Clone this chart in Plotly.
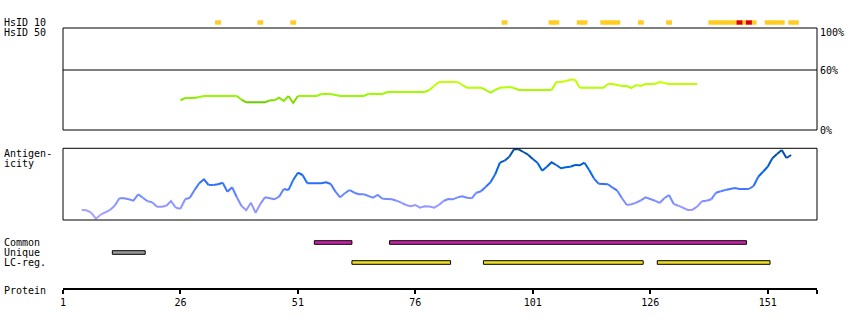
import plotly.graph_objects as go

W, H = 850, 330

# ---------------- data ----------------
protein_len = 161
tick_vals = [1, 26, 51, 76, 101, 126, 151]

hsid10_yellow = [34, 43, 50, 95, 105, 106, 111, 112, 116, 117, 118, 119, 124, 130,
                 139, 140, 141, 142, 143, 144, 146, 148, 151, 152, 153, 154, 156, 157]
hsid10_red = [145, 147]

hsid_res = list(range(26, 137))
hsid_val = [29.7, 32, 32, 32, 33, 34, 34, 34, 34, 34, 34, 34, 34, 30.3,
            27.7, 27.7, 27.7, 27.7, 27.7, 29.7, 29.7, 32.3, 29, 34, 27, 34,
            34, 34, 34, 34, 36, 36, 36, 35, 34, 34, 34, 34, 34, 34, 36, 36,
            36, 36, 38, 38, 38, 38, 38, 38, 38, 38, 38, 40, 44, 48, 48, 48,
            48, 48, 45, 42.3, 42.3, 42.3, 42.3, 40, 37.3, 40, 42.3, 42.3, 43,
            42, 40, 40, 40, 40, 40, 40, 40, 40, 48, 48, 49, 50.3, 50.3, 42.3,
            42.3, 42.3, 42.3, 42.3, 42.3, 46, 46, 45, 44, 44, 42, 45, 44, 46,
            46, 46, 48, 47, 46, 46, 46, 46, 46, 46, 46]

ant_res = list(range(5, 157))
ant_val = [10, 9.7, 7.3, 1.3, 5.3, 7.7, 10, 14.3, 21.7, 21.7, 20.7, 19.3, 25.7,
           22.3, 18.7, 17.7, 13.3, 13.3, 14.3, 19, 12.3, 11.3, 20.7, 22.3, 30,
           36.7, 40.7, 35, 35, 35.7, 37.3, 28.3, 32.7, 22.7, 14, 9.7, 17.3, 7.3,
           16, 22.7, 21.7, 20.7, 23.3, 31, 30, 40, 47.3, 45, 36.7, 36.7, 36.7,
           36.7, 37.7, 36, 28.3, 22.7, 26.7, 30, 27.3, 25.7, 25.7, 24, 22.3, 25,
           21.3, 20.7, 20.7, 19.3, 17.3, 15, 13.7, 15, 12.3, 13.7, 13.5, 12.3, 15,
           19, 21, 20.7, 22.7, 23.7, 22.3, 21.7, 27.3, 28.7, 33.3, 37.7, 45.7,
           57.3, 59.3, 63.3, 70.7, 70.7, 68, 65.3, 61, 57.3, 49.3, 53.3, 57.7,
           55, 51.7, 52.7, 53.3, 55, 54.7, 57.3, 50, 41.7, 36.3, 36, 35.7, 32.3,
           29.3, 21.7, 15, 15.7, 17.3, 19.7, 22.7, 21, 19.3, 17, 21.7, 25, 16,
           14.3, 12.3, 10, 10.3, 13.3, 18.7, 19.3, 20.7, 27.3, 28.7, 30, 31, 32,
           31, 31, 31, 34, 43.3, 48.3, 53.3, 61.7, 66, 70, 62, 65]

common_regions = [(55, 62), (71, 146)]
unique_regions = [(12, 18)]
lc_regions = [(63, 83), (91, 124), (128, 151)]

# ---------------- styling helpers ----------------
FONT = "DejaVu Sans Mono"
FS = 10


def py(px):
    return 1 - px / H


def lerp(stops, v):
    if v <= stops[0][0]:
        return stops[0][1]
    for (a, ca), (b, cb) in zip(stops, stops[1:]):
        if v <= b:
            t = (v - a) / (b - a)
            return tuple(ca[i] + (cb[i] - ca[i]) * t for i in range(3))
    return stops[-1][1]


def colored_line_traces(xs, ys, stops, yaxis, q=10):
    groups = {}
    runs = []
    cur = None
    for i in range(len(xs) - 1):
        c = lerp(stops, (ys[i] + ys[i + 1]) / 2)
        c = tuple(min(255, int(round(ch / q) * q)) for ch in c)
        if cur is not None and cur[0] == c:
            cur[1].append(xs[i + 1]); cur[2].append(ys[i + 1])
        else:
            cur = [c, [xs[i], xs[i + 1]], [ys[i], ys[i + 1]]]
            runs.append(cur)
    for c, rx, ry in runs:
        g = groups.setdefault(c, ([], []))
        g[0].extend(rx + [None]); g[1].extend(ry + [None])
    out = []
    for c, (gx, gy) in groups.items():
        out.append(go.Scatter(x=gx, y=gy, mode="lines", yaxis=yaxis,
                              line=dict(color="rgb(%d,%d,%d)" % c, width=2),
                              hoverinfo="skip", showlegend=False,
                              connectgaps=False))
    return out


hsid_stops = [(27, (102, 200, 0)), (34, (150, 250, 0)), (42, (175, 255, 0)), (49, (205, 255, 0))]
ant_stops = [(0, (175, 165, 255)), (15, (145, 150, 255)), (25, (105, 135, 255)),
             (35, (50, 115, 255)), (50, (0, 100, 230)), (62, (0, 85, 190)), (71, (0, 70, 150))]

fig = go.Figure()

# HsID 50 identity line
for tr in colored_line_traces(hsid_res, hsid_val, hsid_stops, "y"):
    fig.add_trace(tr)

# Antigenicity line
for tr in colored_line_traces(ant_res, ant_val, ant_stops, "y2"):
    fig.add_trace(tr)

# HsID 10 blocks (pixel overlay axis y3)
fig.add_trace(go.Bar(x=hsid10_yellow, y=[4.4] * len(hsid10_yellow), base=[20.3] * len(hsid10_yellow),
                     width=1.25, yaxis="y3", marker=dict(color="#ffcc22", line=dict(width=0)),
                     hoverinfo="skip", showlegend=False))
fig.add_trace(go.Bar(x=hsid10_red, y=[4.4] * len(hsid10_red), base=[20.3] * len(hsid10_red),
                     width=1.25, yaxis="y3", marker=dict(color="#dd0000", line=dict(width=0)),
                     hoverinfo="skip", showlegend=False))


def region_trace(regions, row_px, color):
    return go.Bar(orientation="h",
                  y=[row_px] * len(regions),
                  base=[s - 0.5 for s, e in regions],
                  x=[e - s + 1 for s, e in regions],
                  width=3.6, yaxis="y3",
                  marker=dict(color=color, line=dict(color="black", width=1)),
                  hoverinfo="skip", showlegend=False)


fig.add_trace(region_trace(common_regions, 242.5, "#cc22aa"))
fig.add_trace(region_trace(unique_regions, 252.5, "#999999"))
fig.add_trace(region_trace(lc_regions, 262.5, "#eedd22"))

x0p, x1p = 63 / W, 817 / W

fig.update_layout(
    width=W, height=H, margin=dict(l=0, r=0, t=0, b=0, pad=0, autoexpand=False),
    paper_bgcolor="white", plot_bgcolor="rgba(0,0,0,0)",
    barmode="overlay", showlegend=False,
    font=dict(family=FONT, size=FS, color="black"),
    xaxis=dict(domain=[x0p, x1p], range=[1, protein_len + 0.5], anchor="free",
               position=py(289.3), showline=True, linecolor="black", linewidth=2,
               ticks="outside", ticklen=4, tickwidth=2, tickcolor="black",
               tickvals=tick_vals + [protein_len + 0.5],
               ticktext=[str(t) for t in tick_vals] + [""],
               tickfont=dict(family=FONT, size=FS, color="black"),
               showgrid=False, zeroline=False, fixedrange=True, automargin=False),
    yaxis=dict(domain=[py(130), py(28)], range=[0, 102], anchor="free", position=x0p,
               visible=False, fixedrange=True, automargin=False),
    yaxis2=dict(domain=[py(220), py(148.3)], range=[0, 71.7], anchor="free", position=x0p,
                visible=False, fixedrange=True, automargin=False),
    yaxis3=dict(domain=[0, 1], range=[H, 0], anchor="free", position=0,
                visible=False, fixedrange=True, automargin=False),
)

# panel boxes and 60% line
fig.add_shape(type="rect", xref="x domain", yref="y domain", x0=0, x1=1, y0=0, y1=1,
              line=dict(color="black", width=1), layer="above")
fig.add_shape(type="rect", xref="x domain", yref="y2 domain", x0=0, x1=1, y0=0, y1=1,
              line=dict(color="black", width=1), layer="above")
fig.add_shape(type="line", xref="x domain", yref="y", x0=0, x1=1, y0=60, y1=60,
              line=dict(color="black", width=1), layer="above")

labels = [("HsID 10", 22.7), ("HsID 50", 32.7), ("Antigen-", 153.3), ("icity", 163.3),
          ("Common", 242.3), ("Unique", 252.3), ("LC-reg.", 262.3), ("Protein", 290)]
for txt, ypx in labels:
    fig.add_annotation(text=txt, xref="paper", x=3 / W, xanchor="left",
                       yref="paper", y=py(ypx), yanchor="middle",
                       showarrow=False, borderpad=0,
                       font=dict(family=FONT, size=FS, color="black"))

for txt, ypx in [("100%", 32.7), ("60%", 70), ("0%", 130.3)]:
    fig.add_annotation(text=txt, xref="paper", x=819 / W, xanchor="left",
                       yref="paper", y=py(ypx), yanchor="middle",
                       showarrow=False, borderpad=0,
                       font=dict(family=FONT, size=FS, color="black"))

fig.write_html("out.html")
